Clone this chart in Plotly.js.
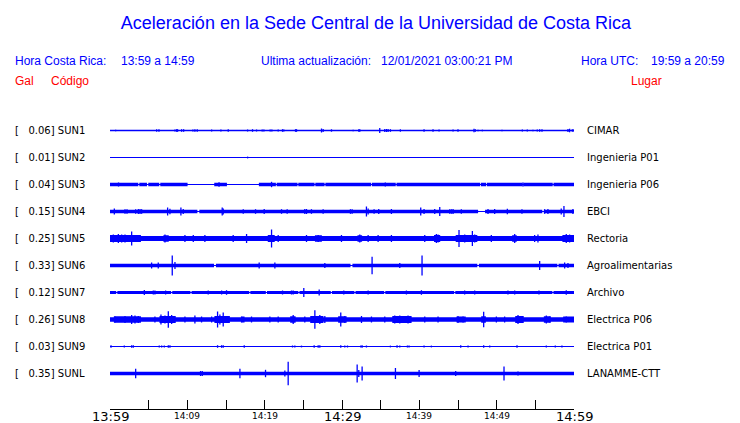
<!DOCTYPE html>
<html>
<head>
<meta charset="utf-8">
<script src="https://cdn.plot.ly/plotly-3.0.1.min.js"></script>
<style>html,body{margin:0;padding:0;background:#fff;}#chart{width:740px;height:423px;}</style>
</head>
<body>
<div id="chart"></div>
<script>
// ---------- DATA ----------
const codes = ['SUN1','SUN2','SUN3','SUN4','SUN5','SUN6','SUN7','SUN8','SUN9','SUNL'];
const galMax = [0.06,0.01,0.04,0.15,0.25,0.33,0.12,0.26,0.03,0.35];
const places = ['CIMAR','Ingenieria P01','Ingenieria P06','EBCI','Rectoria','Agroalimentarias','Archivo','Electrica P06','Electrica P01','LANAMME-CTT'];

// time axis (minutes after 13:59)
const tickMinutes = [0,5,10,15,20,25,30,35,40,45,50,55,60];
const labelMinutes = [0,10,20,30,40,50,60];
const labelText = ['13:59','14:09','14:19','14:29','14:39','14:49','14:59'];
const labelMajor = [true,false,false,true,false,false,true];

// background envelope bands: [start min, end min, half amplitude]
const sun1Bands = [[0,60,0.7]];
const sun2Bands = [[0,60,0.5]];
const sun3Bands = [[0,60,0.5],[0,3.66,1.7],[3.79,4.78,1.7],[4.95,6.37,1.7],[6.5,10.03,1.7],[13.48,15.12,1.7],
  [19.25,21.45,1.7],[21.55,24.25,1.7],[24.35,26.45,1.7],[26.55,27.75,1.7],[27.85,33.75,1.7],[33.85,36.95,1.7],
  [37.05,47.85,1.7],[47.95,48.65,1.7],[48.75,53.35,1.7],[53.45,57.25,1.7],[57.35,60,1.7]];
const sun4Bands = [[0,60,0.6],[0,11.3,1.8],[11.55,47.6,1.8],[48.5,55.9,1.8],[56.1,60,1.8]];
const sun5Bands = [[0,60,2.6],[0,4.0,3.6],[6.9,7.6,3.3],[20.4,21.3,3.5],[26.5,27.4,3.3],[32.0,32.6,3.2],
  [41.9,42.7,3.4],[44.7,47.5,3.6],[52.0,52.6,3.3],[58.5,60,3.6]];
const sun6Bands = [[0,60,0.6],[0,13.45,1.7],[13.7,31.1,1.7],[31.35,47.5,1.7],[47.7,57.85,1.7],[58.0,60,1.7]];
const sun7Bands = [[0,60,0.6],[0,0.8,1.5],[0.95,7.9,1.5],[8.05,10.4,1.5],[10.55,18.0,1.5],[18.15,20.15,1.5],
  [20.3,24.35,1.5],[24.5,28.55,1.5],[28.7,31.6,1.5],[31.75,35.45,1.5],[35.6,44.5,1.5],[44.65,57.2,1.5],[57.35,60,1.5]];
const sun8Bands = [[0,60,2.2],[0.5,4.0,3.3],[6.4,8.5,3.6],[13.5,15.5,3.6],[17.0,17.4,3.0],[23.3,24.0,3.2],
  [25.9,27.6,3.6],[29.5,30.6,3.2],[36.5,39.0,3.4],[44.8,46.0,3.1],[48.0,48.6,3.2],[52.4,53.5,3.4],[56.1,57.0,3.3],[58.6,60,3.0]];
const sun9Bands = [[0,60,0.6]];
const sunLBands = [[0,60,1.8]];

// transient peaks: [minute, half amplitude]
const sun1Spikes = [[0.73,0.8],[6.03,1.2],[6.33,1.2],[8.4,1.0],[8.61,1.3],[8.74,1.3],[9.26,1.3],[9.52,1.3],[10.72,1.0],
  [10.98,1.3],[11.28,1.3],[13.14,1.0],[14.34,1.0],[15.29,1.2],[17.79,1.0],[18.43,1.3],[18.95,1.0],[19.68,1.0],[19.9,0.9],
  [20.71,1.0],[20.93,1.0],[21.75,1.0],[22.31,1.3],[22.48,1.0],[23.99,1.3],[24.12,1.3],[27.35,2.0],[27.56,1.5],[28.64,1.2],
  [31.44,0.8],[32.17,1.3],[32.3,1.3],[34.88,2.5],[35.53,1.5],[35.75,1.5],[35.96,1.5],[36.26,1.3],[37.55,1.2],[40.61,1.3],
  [41.77,1.2],[42.55,1.0],[44.36,1.0],[45.0,1.2],[47.07,1.8],[47.24,1.3],[47.59,0.8],[48.15,0.8],[50.69,0.8],[53.32,1.0],
  [53.96,0.9],[54.69,0.8],[55.25,1.0],[55.56,1.3],[55.86,1.3],[59.22,1.5],[59.43,1.8],[59.78,1.3],[59.99,1.3]];
const sun2Spikes = [[17.79,0.9]];
const sun3Spikes = [[1.1,2.0],[14.1,2.2],[20.89,2.7],[35.6,2.0],[53.4,2.0]];
const sun4Spikes = [[0.56,3.0],[1.94,2.3],[2.2,2.3],[3.32,2.3],[3.66,2.5],[3.88,2.5],[4.09,2.3],[7.45,4.0],[7.75,2.8],
  [9.17,4.0],[9.47,2.5],[14.51,4.0],[14.64,3.0],[17.23,2.3],[18.82,2.3],[19.94,2.5],[22.18,2.3],[22.91,2.3],[25.19,2.5],
  [25.41,2.5],[26.05,2.3],[27.56,2.3],[31.09,2.3],[31.31,2.3],[33.16,5.0],[33.38,3.0],[34.15,2.3],[34.75,2.5],[36.39,2.5],
  [40.18,4.0],[40.61,2.5],[41.99,2.5],[42.64,4.5],[43.93,2.3],[44.14,2.3],[44.36,2.5],[45.43,2.3],[48.88,2.5],[49.74,2.5],
  [51.38,2.8],[53.27,2.3],[56.2,2.3],[56.63,2.5],[58.35,3.0],[58.7,5.5],[59.86,2.5]];
const sun5Spikes = [[0.43,4.0],[1.08,4.5],[1.51,4.0],[1.94,4.0],[2.8,7.0],[3.45,3.5],[7.11,4.0],[9.69,3.5],[10.77,3.5],
  [12.27,3.5],[15.93,3.5],[17.66,4.5],[20.89,9.0],[21.75,3.5],[25.41,3.5],[26.92,3.5],[29.93,3.5],[32.3,4.0],[33.38,3.5],
  [34.67,3.5],[36.39,3.5],[40.7,3.5],[42.2,4.5],[42.42,4.0],[45.13,8.5],[45.87,4.0],[46.86,7.5],[47.16,4.0],[49.31,3.5],
  [52.33,4.5],[54.91,3.5],[55.34,4.0],[59.0,4.5],[59.43,4.0]];
const sun6Spikes = [[5.38,3.0],[6.24,3.0],[8.05,10.0],[8.4,3.5],[19.29,3.0],[21.32,3.0],[27.78,2.5],[33.89,8.7],
  [37.47,2.5],[40.35,10.0],[55.56,4.5],[58.79,3.0],[59.22,2.5]];
const sun7Spikes = [[4.44,2.5],[5.6,2.0],[5.81,2.0],[7.19,2.0],[12.7,2.0],[14.43,2.0],[15.07,2.3],[22.31,2.0],[23.47,2.0],
  [23.69,2.0],[25.06,4.5],[27.05,3.0],[30.23,2.0],[33.38,2.0],[38.33,2.0],[40.27,2.3],[45.86,2.0],[47.16,2.0],[51.46,2.0],
  [52.33,2.0],[55.47,2.0],[59.0,2.3]];
const sun8Spikes = [[0.65,3.0],[1.94,3.5],[2.8,4.5],[3.23,4.0],[3.66,3.5],[5.81,3.0],[6.59,5.0],[7.11,4.0],[7.54,8.3],
  [7.97,4.5],[9.69,3.0],[10.98,4.0],[11.84,3.0],[13.14,3.0],[13.91,8.0],[14.21,5.0],[14.64,7.0],[15.29,3.5],[17.01,3.0],
  [18.3,3.0],[20.67,3.0],[21.75,3.0],[23.69,4.5],[25.19,3.0],[26.05,3.5],[26.49,9.3],[27.13,4.5],[27.78,3.5],[29.84,7.0],
  [30.36,3.5],[32.52,3.5],[33.81,3.0],[35.53,3.0],[36.82,4.0],[37.47,4.0],[37.9,3.5],[38.54,4.0],[40.7,3.0],[42.42,3.0],
  [45.0,3.5],[45.65,3.0],[48.32,7.7],[49.96,3.0],[51.03,3.0],[52.76,4.5],[53.19,3.5],[56.42,4.0],[56.85,3.0],[59.0,3.0]];
const sun9Spikes = [[0.13,1.3],[1.85,0.9],[2.8,1.3],[3.01,1.3],[6.37,1.0],[6.68,1.0],[7.02,1.0],[7.54,1.3],[7.75,1.3],
  [13.91,1.3],[14.43,1.3],[14.64,1.3],[17.36,1.3],[23.6,1.0],[23.9,1.0],[24.76,0.9],[26.4,1.3],[26.92,1.3],[27.13,1.3],
  [29.84,1.3],[30.36,1.0],[30.71,1.0],[32.43,1.0],[32.6,1.3],[33.16,1.0],[36.26,0.9],[37.12,1.3],[37.47,1.0],[38.46,1.0],
  [38.67,1.0],[40.61,0.9],[41.56,0.9],[45.35,1.3],[46.3,0.9],[48.32,1.3],[49.1,0.9],[52.63,1.3],[56.42,1.0],[57.58,0.9],[58.44,1.0]];
const sunLSpikes = [[3.32,4.7],[11.71,2.5],[11.93,2.5],[16.8,4.7],[20.11,3.7],[22.61,3.0],[23.04,11.8],[25.41,1.5],
  [31.96,9.0],[32.17,3.5],[32.6,7.0],[36.91,5.5],[39.97,3.5],[44.7,2.5],[50.95,7.0],[52.76,2.0],[58.27,1.5],[59.86,1.5]];

const allBands = [sun1Bands,sun2Bands,sun3Bands,sun4Bands,sun5Bands,sun6Bands,sun7Bands,sun8Bands,sun9Bands,sunLBands];
const allSpikes = [sun1Spikes,sun2Spikes,sun3Spikes,sun4Spikes,sun5Spikes,sun6Spikes,sun7Spikes,sun8Spikes,sun9Spikes,sunLSpikes];

// ---------- DRAW ----------
const BLUE = '#0000ff';
const rowPx = 27;            // pixel spacing between traces
const k = 1 / rowPx;         // amplitude units -> row units

const traces = [];
codes.forEach((code, i) => {
  const off = -i;
  const bx = [], by = [];
  allBands[i].forEach(([s, e, a]) => {
    bx.push(s, e, e, s, s, null);
    by.push(off - a*k, off - a*k, off + a*k, off + a*k, off - a*k, null);
  });
  traces.push({type:'scatter', mode:'lines', x:bx, y:by, fill:'toself', fillcolor:BLUE,
    line:{width:0, color:BLUE}, hoverinfo:'skip', showlegend:false});
  const sx = [], sy = [];
  allSpikes[i].forEach(([t, a]) => {
    sx.push(t, t, null);
    sy.push(off - a*k, off + a*k, null);
  });
  traces.push({type:'scatter', mode:'lines', x:sx, y:sy, line:{width:1.3, color:BLUE},
    hoverinfo:'skip', showlegend:false});
});

const W = 740, H = 423, L = 110, R = 166, T = 100, B = 14;
const pw = W - L - R, ph = H - T - B;
const px2x = p => (p - L) / pw;
const py2y = p => (H - B - p) / ph;

const annotations = [];
const nb = s => s.replace(/ /g, '\u00a0');
const ann = o => Object.assign({showarrow:false, borderpad:0, borderwidth:0}, o);
codes.forEach((code, i) => {
  annotations.push(ann({xref:'paper', yref:'y', x:px2x(15), y:-i, xanchor:'left', yanchor:'middle',
    text: nb('[   ' + galMax[i].toFixed(2) + '] ' + code), font:{family:'DejaVu Sans', size:10, color:'#000'}}));
  annotations.push(ann({xref:'paper', yref:'y', x:px2x(587), y:-i, xanchor:'left', yanchor:'middle',
    text: places[i], font:{family:'DejaVu Sans', size:10, color:'#000'}}));
});
labelMinutes.forEach((m, j) => {
  annotations.push(ann({xref:'x', yref:'paper', x:m, y:py2y(labelMajor[j] ? 408.5 : 410.5), xanchor:'center', yanchor:'top',
    text:labelText[j], font:{family:'DejaVu Sans', size: labelMajor[j] ? 13 : 9, color:'#000'}}));
});
const hdrFont = {family:'Liberation Sans, Arial', size:12, color:BLUE};
const redFont = {family:'Liberation Sans, Arial', size:12, color:'#ff0000'};
[['Hora Costa Rica:',15],['13:59 a 14:59',120.5],['Ultima actualización:',260.5],['12/01/2021 03:00:21 PM',381],
 ['Hora UTC:',580.5],['19:59 a 20:59',650.5]].forEach(([t, x]) => {
  annotations.push(ann({xref:'paper', yref:'paper', x:px2x(x), y:py2y(61), xanchor:'left', yanchor:'middle',
    text:nb(t), font:hdrFont}));
});
[['Gal',15],['Código',51],['Lugar',631]].forEach(([t, x]) => {
  annotations.push(ann({xref:'paper', yref:'paper', x:px2x(x), y:py2y(81), xanchor:'left', yanchor:'middle',
    text:t, font:redFont}));
});

const rowTop = (130.5 - T) / rowPx;
const layout = {
  width: W, height: H,
  margin: {l:L, r:R, t:T, b:B, pad:0},
  paper_bgcolor:'#fff', plot_bgcolor:'#fff',
  title: {text:'Aceleración en la Sede Central de la Universidad de Costa Rica',
    font:{family:'Liberation Sans, Arial', size:18, color:BLUE},
    x: 376/W, xref:'container', xanchor:'center', y: 1 - 23/H, yref:'container', yanchor:'middle'},
  xaxis: {range:[0,60], tickmode:'array', tickvals:tickMinutes, ticks:'inside', ticklen:9, tickwidth:1,
    tickcolor:'#000', showticklabels:false, showline:true, linecolor:'#000', linewidth:1,
    showgrid:false, zeroline:false, fixedrange:true, automargin:false},
  yaxis: {range:[rowTop - ph/rowPx, rowTop], visible:false, fixedrange:true, automargin:false},
  annotations: annotations,
  showlegend:false
};

Plotly.newPlot('chart', traces, layout, {displayModeBar:false, staticPlot:true});
</script>
</body>
</html>
